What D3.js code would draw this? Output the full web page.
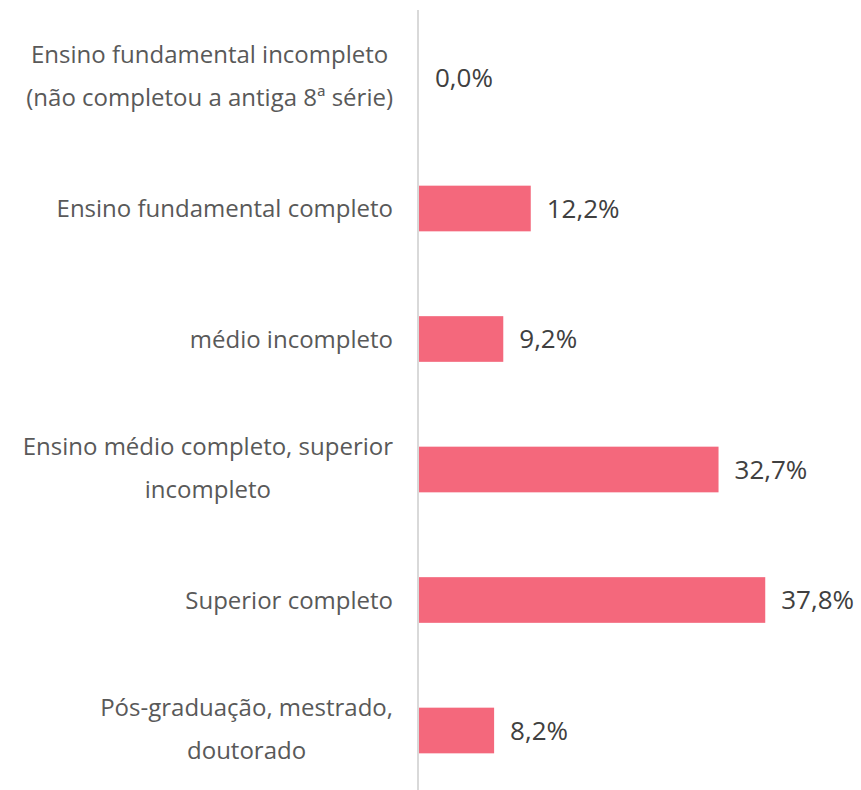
<!DOCTYPE html>
<html>
<head>
<meta charset="utf-8">
<script src="https://cdn.jsdelivr.net/npm/d3@7"></script>
<style>
  body { margin: 0; background: #fff; }
  text { font-family: "Open Sans", "Noto Sans", sans-serif; }
</style>
</head>
<body>
<div id="chart"></div>
<script>
// categorias (cada item = linhas do rótulo)
var categories = [
    ["Ensino fundamental incompleto", "(não completou a antiga 8ª série)"],
    ["Ensino fundamental completo"],
    ["médio incompleto"],
    ["Ensino médio completo, superior", "incompleto"],
    ["Superior completo"],
    ["Pós-graduação, mestrado,", "doutorado"]
];
var values = [0.0, 12.2, 9.2, 32.7, 37.8, 8.2];
var valueLabels = ["0,0%", "12,2%", "9,2%", "32,7%", "37,8%", "8,2%"];

// Dimensions
var width = 861,
    height = 790,
    axisX = 419,
    labelRight = 393,
    fontSize = 24,
    lineGap = 43;

var svg = d3.select("#chart")
    .append("svg")
    .attr("width", width)
    .attr("height", height);

var ids = categories.map(function (d, i) { return i; });

// Axe Y
var y = d3.scaleBand()
    .domain(ids)
    .range([12.75, 795.75])
    .paddingInner(0.65)
    .paddingOuter(0.325);

// Axe X
var x = d3.scaleLinear()
    .domain([0, 40])
    .range([axisX, axisX + 366.4]);

// barres
svg.selectAll("rect.bar")
    .data(values)
    .enter()
    .append("rect")
    .attr("class", "bar")
    .attr("x", x(0))
    .attr("y", function (d, i) { return y(i); })
    .attr("width", function (d) { return x(d) - x(0); })
    .attr("height", y.bandwidth())
    .style("fill", "#f4687c");

// ligne verticale
svg.append("line")
    .attr("x1", axisX - 1)
    .attr("x2", axisX - 1)
    .attr("y1", 10)
    .attr("y2", height)
    .style("stroke", "#d9d9d9")
    .style("stroke-width", 2);

// valeurs
svg.selectAll("text.value")
    .data(values)
    .enter()
    .append("text")
    .attr("class", "value")
    .attr("x", function (d) { return x(d) + 16; })
    .attr("y", function (d, i) { return y(i) + y.bandwidth() / 2; })
    .attr("dy", "0.36em")
    .style("font-size", "26px")
    .style("fill", "#404040")
    .text(function (d, i) { return valueLabels[i]; });

// labels des categories
categories.forEach(function (lines, i) {
    var cy = y(i) + y.bandwidth() / 2 - (lines.length > 1 ? 2 : 0);
    var g = svg.append("g");
    var texts = lines.map(function (l, j) {
        return g.append("text")
            .attr("y", cy + (j - (lines.length - 1) / 2) * lineGap)
            .attr("dy", "0.36em")
            .attr("text-anchor", "middle")
            .style("font-size", fontSize + "px")
            .style("fill", "#595959")
            .text(l);
    });
    var maxW = d3.max(texts, function (t) { return t.node().getComputedTextLength(); });
    texts.forEach(function (t) { t.attr("x", labelRight - maxW / 2); });
});
</script>
</body>
</html>
